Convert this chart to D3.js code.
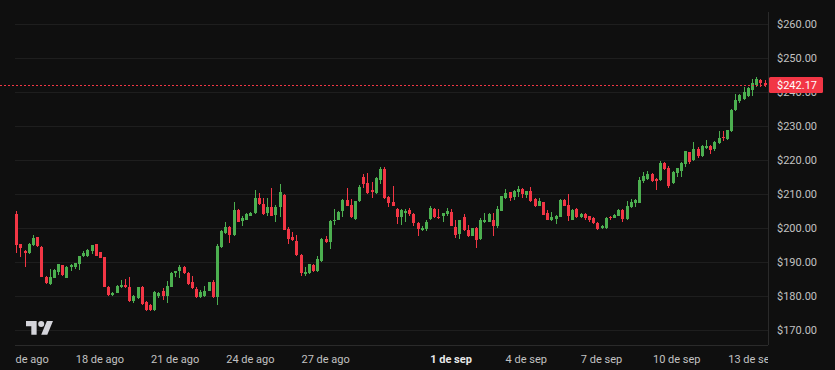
<!DOCTYPE html>
<html>
<head>
<meta charset="utf-8">
<script src="https://cdn.jsdelivr.net/npm/d3@7"></script>
<style>
  html, body { margin: 0; padding: 0; background: #0f0f0f; }
  svg { display: block; }
  .lbl { font-family: Roboto, "Noto Sans", sans-serif; font-size: 11px; fill: #c2c2c2; }
</style>
</head>
<body>
<svg id="chart" width="835" height="370"></svg>
<script>
// 4h candles, first one opens 14 Aug 16:00
var startTime = Date.UTC(2025, 7, 14, 16);
var stepHours = 4;

var opens = [
  204.2,195.3,193.4,192.6,195.1,197.4,194.6,185.8,183.6,185.5,
  187.1,189.2,185.5,188.7,188.5,189.5,191.8,192.0,193.4,195.3,
  192.9,191.6,182.8,180.5,181.0,182.6,183.4,182.6,178.5,179.6,
  182.8,178.4,177.5,176.1,180.2,181.5,180.2,182.8,186.9,187.4,
  188.6,186.9,184.1,182.2,179.7,180.0,181.7,184.3,179.9,194.4,
  198.6,200.5,198.0,205.4,202.1,202.5,203.7,204.4,209.0,207.1,
  204.5,206.2,203.9,206.2,209.8,199.8,197.5,196.4,192.2,186.6,
  186.9,189.2,187.3,190.5,196.9,195.9,202.1,202.5,205.0,208.4,
  206.9,202.7,207.9,215.0,213.3,211.2,210.4,214.2,217.3,209.3,
  207.6,205.7,203.4,204.4,205.4,204.2,201.7,199.4,199.8,202.7,
  205.7,203.3,203.5,204.2,204.9,200.5,198.3,203.2,199.5,197.8,
  200.0,196.9,201.8,202.0,202.3,200.8,205.2,208.9,210.6,209.3,
  210.6,211.6,209.9,210.9,208.6,206.7,207.6,204.4,202.3,202.7,
  203.4,208.3,206.9,202.5,205.7,203.2,204.2,203.5,202.9,201.5,
  200.0,200.0,203.4,203.0,203.7,205.4,202.7,206.3,207.5,207.5,
  214.0,214.5,216.0,214.5,214.1,219.2,217.7,213.2,216.3,217.0,
  218.9,222.3,220.0,223.3,221.4,223.6,224.3,223.3,225.1,227.0,
  226.2,228.5,234.8,237.3,238.0,238.9,240.7,242.1,243.6,242.8
];
var highs = [
  205.2,195.5,193.6,195.6,198.0,197.5,194.8,186.0,188.0,188.0,
  189.5,189.2,189.0,189.4,189.9,192.0,193.4,193.9,195.2,195.4,
  193.1,191.7,183.0,181.4,183.2,184.8,185.1,185.8,180.4,182.8,
  183.1,178.7,177.7,181.7,181.4,182.3,184.6,187.1,187.5,189.2,
  188.8,187.1,186.1,182.7,181.9,183.1,184.3,184.8,195.4,199.5,
  202.0,200.7,207.8,205.6,203.7,204.4,204.9,211.3,210.4,208.8,
  208.8,211.8,206.9,213.0,210.0,200.5,199.0,198.0,192.4,188.6,
  189.6,189.4,191.8,197.1,197.8,202.3,205.7,205.2,208.6,211.8,
  208.6,208.1,212.7,216.0,216.3,213.5,215.0,218.0,218.0,209.6,
  212.3,206.0,205.7,205.7,205.9,204.4,202.0,200.6,202.3,206.5,
  205.9,205.7,204.6,205.9,205.7,202.3,202.5,204.2,201.1,200.1,
  200.3,203.0,204.4,204.4,204.4,206.5,209.6,211.6,210.8,211.4,
  212.5,211.8,211.1,212.1,208.8,208.8,207.8,205.4,204.9,203.9,
  208.5,208.5,210.1,205.7,205.9,204.4,204.4,203.7,203.2,201.8,
  201.1,203.2,203.7,204.2,205.6,205.6,207.9,208.7,208.7,215.1,
  216.5,216.8,216.2,214.8,219.7,219.4,218.2,216.8,217.8,219.4,
  222.8,222.5,225.3,223.9,224.6,225.9,224.5,225.6,228.7,228.5,
  229.0,235.0,239.5,239.5,241.5,241.5,243.8,244.4,243.8,243.6
];
var lows = [
  192.6,191.7,188.7,192.4,194.8,194.4,185.6,183.6,183.4,185.3,
  186.4,186.1,185.5,187.5,188.1,187.7,191.6,191.7,192.5,191.8,
  191.2,182.6,180.2,180.2,180.9,182.5,182.5,178.2,177.9,179.3,
  177.5,175.6,175.8,175.8,179.6,178.8,177.9,182.6,185.8,185.5,
  186.7,183.3,182.2,179.6,179.5,179.9,181.5,179.6,177.3,194.2,
  198.4,195.6,197.8,201.8,200.8,202.3,203.5,204.2,206.9,203.9,
  203.7,203.5,202.0,203.2,199.4,195.4,196.4,192.0,186.1,186.1,
  186.7,187.1,187.1,190.2,195.6,193.9,201.1,202.3,203.2,206.5,
  202.9,202.5,207.6,211.8,210.2,208.8,210.2,213.0,208.6,206.2,
  206.7,201.3,201.1,201.8,203.7,200.7,197.8,199.1,199.1,202.5,
  202.9,202.7,201.8,203.7,200.6,197.2,196.9,199.1,197.4,197.6,
  194.2,196.7,201.6,201.8,197.8,200.1,205.0,208.6,208.1,208.3,
  209.1,208.9,208.9,207.7,206.2,206.5,203.8,202.3,202.1,201.3,
  203.2,206.5,202.1,202.3,203.0,203.0,202.3,202.0,201.3,199.5,
  199.8,199.8,202.3,202.9,203.5,201.8,202.5,206.0,206.3,207.3,
  213.4,214.1,213.7,211.2,213.9,217.1,211.9,212.9,215.1,215.1,
  218.0,219.0,219.7,220.7,221.0,223.3,222.0,222.6,224.9,225.8,
  225.9,228.3,234.6,237.0,237.8,238.5,238.9,241.5,241.7,241.7
];
var closes = [
  195.2,194.3,192.8,195.3,197.0,194.8,185.8,183.8,185.6,187.8,
  189.5,186.4,188.7,189.1,189.7,191.9,192.7,193.7,195.0,192.0,
  191.3,182.8,180.5,181.0,182.9,183.4,182.6,178.5,180.2,182.6,
  177.7,175.9,176.1,181.2,180.9,180.0,183.1,186.9,187.4,188.6,
  186.9,183.5,182.5,179.9,181.2,181.7,184.1,179.9,194.9,199.3,
  200.3,198.0,205.4,202.0,203.0,204.2,204.4,208.8,207.1,204.2,
  206.2,203.7,206.2,210.8,199.6,196.9,196.6,192.2,186.9,187.1,
  189.4,187.5,191.0,196.9,195.9,202.1,202.5,204.9,208.3,206.7,
  203.2,207.9,212.1,213.0,210.4,210.6,214.7,217.4,208.9,207.4,
  206.7,203.4,205.4,205.2,204.2,201.7,199.8,200.1,202.0,205.9,
  203.2,203.0,204.4,205.0,200.8,198.0,202.3,199.5,197.8,200.0,
  196.6,202.3,202.3,204.2,200.8,205.7,209.4,210.5,208.9,211.1,
  211.6,210.1,210.9,207.9,206.7,207.9,204.0,202.5,203.2,203.7,
  208.3,206.7,203.7,205.4,203.4,204.2,203.0,202.3,201.5,199.8,
  200.8,203.0,202.9,203.9,205.4,202.7,206.7,207.8,208.2,214.3,
  215.3,216.1,213.9,213.9,219.2,217.3,212.4,216.5,217.6,219.2,
  222.6,219.4,223.4,221.4,224.3,224.3,223.1,225.3,226.7,226.5,
  228.8,234.8,237.8,239.2,240.2,241.2,242.6,243.8,242.8,242.17
];
var lastPrice = 242.17;

var priceTicks = [170, 180, 190, 200, 210, 220, 230, 240, 250, 260];
var dayTickDates = ["2025-08-15","2025-08-18","2025-08-21","2025-08-24","2025-08-27",
                    "2025-09-01","2025-09-04","2025-09-07","2025-09-10","2025-09-13"];
var dayTickLabels = ["15 de ago","18 de ago","21 de ago","24 de ago","27 de ago",
                     "1 de sep","4 de sep","7 de sep","10 de sep","13 de sep"];
var monthStart = "1 de sep";

var upColor = "#4caf50",
    downColor = "#f23645";

var svg = d3.select("#chart");
var plot = { left: 15, right: 768, top: 12, bottom: 345 };
var stepMs = stepHours * 3600 * 1000;

var candles = opens.map(function(o, i) {
  return { t: new Date(startTime + i * stepMs), o: o, h: highs[i], l: lows[i], c: closes[i] };
});

var x = d3.scaleUtc()
    .domain([new Date(startTime), new Date(startTime + 180 * stepMs)])
    .range([16.3, 768.7]);
var y = d3.scaleLinear().domain([170, 260]).range([330.3, 24.3]);

svg.append("rect").attr("width", 835).attr("height", 370).attr("fill", "#0f0f0f");

var defs = svg.append("defs");
defs.append("clipPath").attr("id", "plotClip")
  .append("rect").attr("x", plot.left).attr("y", plot.top)
  .attr("width", plot.right - plot.left).attr("height", plot.bottom - plot.top);
defs.append("clipPath").attr("id", "timeClip")
  .append("rect").attr("x", plot.left).attr("y", plot.bottom)
  .attr("width", plot.right - plot.left).attr("height", 25);

// horizontal grid
svg.append("g").selectAll("line").data(priceTicks).join("line")
  .attr("x1", plot.left).attr("x2", plot.right)
  .attr("y1", function(d) { return Math.round(y(d)) + 0.5; })
  .attr("y2", function(d) { return Math.round(y(d)) + 0.5; })
  .attr("stroke", "#1e1e1e").attr("stroke-width", 1);

// scale borders
svg.append("line").attr("x1", plot.right + 0.5).attr("x2", plot.right + 0.5)
  .attr("y1", plot.top).attr("y2", plot.bottom)
  .attr("stroke", "#2a2a2a");
svg.append("line").attr("x1", plot.left).attr("x2", plot.right)
  .attr("y1", plot.bottom + 0.5).attr("y2", plot.bottom + 0.5)
  .attr("stroke", "#2a2a2a");

// candles
var cg = svg.append("g").attr("clip-path", "url(#plotClip)");
var candle = cg.selectAll("g").data(candles).join("g")
  .attr("fill", function(d) { return d.c >= d.o ? upColor : downColor; });
candle.append("rect")
  .attr("x", function(d) { return Math.round(x(d.t)); })
  .attr("width", 1)
  .attr("y", function(d) { return Math.round(y(d.h)); })
  .attr("height", function(d) { return Math.max(1, Math.round(y(d.l)) - Math.round(y(d.h))); });
candle.append("rect")
  .attr("x", function(d) { return Math.round(x(d.t)) - 1; })
  .attr("width", 3)
  .attr("y", function(d) { return Math.round(y(Math.max(d.o, d.c))); })
  .attr("height", function(d) {
    return Math.max(1, Math.round(y(Math.min(d.o, d.c))) - Math.round(y(Math.max(d.o, d.c))));
  });

// last price line (dotted)
var ly = Math.round(y(lastPrice)) + 0.5;
svg.append("line").attr("x1", 0).attr("x2", plot.right)
  .attr("y1", ly).attr("y2", ly)
  .attr("stroke", downColor).attr("stroke-width", 1)
  .attr("stroke-dasharray", "2,2")
  .style("shape-rendering", "crispEdges");

// price axis labels
svg.append("g").selectAll("text").data(priceTicks).join("text")
  .attr("class", "lbl")
  .attr("x", 777).attr("y", function(d) { return y(d); })
  .attr("dy", "0.35em")
  .text(function(d) { return "$" + d3.format(".2f")(d); });

// last price tag
svg.append("rect").attr("x", plot.right + 1).attr("y", ly - 8.5)
  .attr("width", 54).attr("height", 16).attr("rx", 1.5)
  .attr("fill", downColor);
svg.append("text").attr("class", "lbl")
  .attr("x", 777).attr("y", ly).attr("dy", "0.35em")
  .style("fill", "#ffffff")
  .text("$" + d3.format(".2f")(lastPrice));

// time axis labels
svg.append("g").attr("clip-path", "url(#timeClip)")
  .selectAll("text").data(dayTickDates).join("text")
  .attr("class", "lbl")
  .attr("x", function(d) { return x(new Date(d + "T00:00:00Z")); })
  .attr("y", 359).attr("dy", "0.35em")
  .attr("text-anchor", "middle")
  .style("font-weight", function(d, i) { return dayTickLabels[i] === monthStart ? "bold" : null; })
  .style("fill", function(d, i) { return dayTickLabels[i] === monthStart ? "#e8e8e8" : null; })
  .text(function(d, i) { return dayTickLabels[i]; });

// TradingView logo
var logo = svg.append("g").attr("transform", "translate(26,318) scale(0.76)").attr("fill", "#d4d4da");
logo.append("path").attr("d", "M14 22H7V11H0V4h14v18zM28 22h-8l7.5-18h8L28 22z");
logo.append("circle").attr("cx", 20).attr("cy", 8).attr("r", 4);
</script>
</body>
</html>
